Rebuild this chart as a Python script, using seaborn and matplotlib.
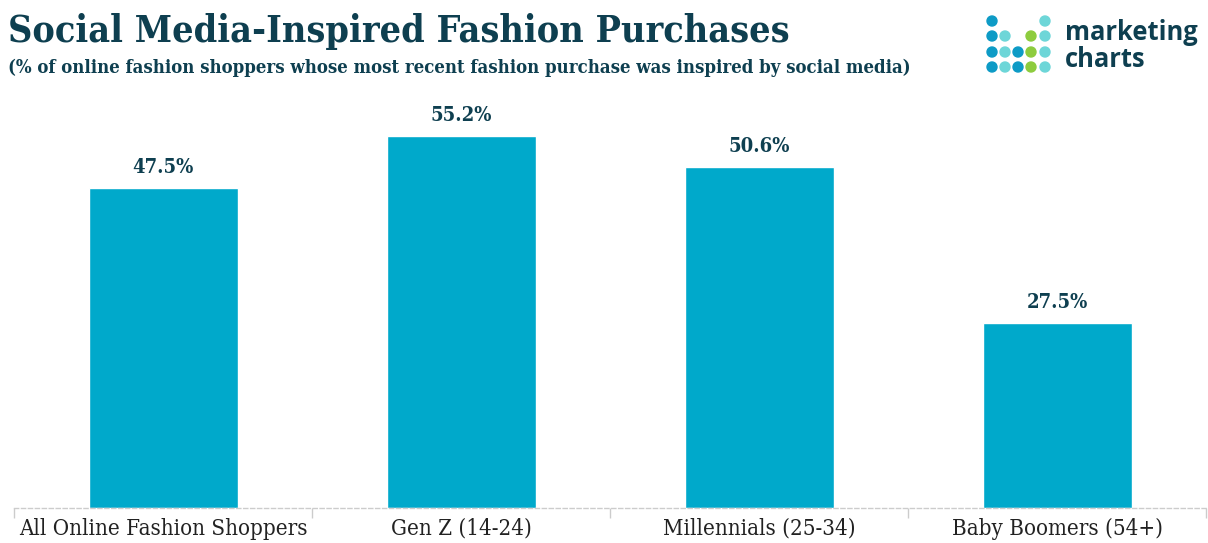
import matplotlib
matplotlib.use("Agg")
import matplotlib.pyplot as plt
from matplotlib.patches import Ellipse
import seaborn as sns
import pandas as pd

categories = ["All Online Fashion Shoppers", "Gen Z (14-24)", "Millennials (25-34)", "Baby Boomers (54+)"]
values = [47.5, 55.2, 50.6, 27.5]
value_labels = ["47.5%", "55.2%", "50.6%", "27.5%"]

title = "Social Media-Inspired Fashion Purchases"
subtitle = "(% of online fashion shoppers whose most recent fashion purchase was inspired by social media)"

sns.set_theme(style="white")

BAR = "#00a9cb"
DARK = "#0e3f50"
SERIF = dict(family="DejaVu Serif", stretch="condensed")
W, H = 1208, 543

df = pd.DataFrame({"group": categories, "share": values})

fig = plt.figure(figsize=(W / 100, H / 100), dpi=100)
ax = fig.add_axes([14 / W, 1 - 508 / H, (1206 - 14) / W, (508 - 100) / H])

sns.barplot(data=df, x="group", y="share", color=BAR, width=0.5, saturation=1, ax=ax)

ax.set_xlim(-0.5, len(categories) - 0.5)
ax.set_ylim(0, (508 - 100) / 6.74)
ax.set_xlabel("")
ax.set_ylabel("")
ax.set_yticks([])
for s in ["top", "left", "right"]:
    ax.spines[s].set_visible(False)
ax.spines["bottom"].set_color("#cccccc")
ax.spines["bottom"].set_linestyle((0, (3, 2)))
ax.spines["bottom"].set_linewidth(1.0)

ax.set_xticks(range(len(categories)))
ax.set_xticklabels(categories, fontsize=16, color="#222222", **SERIF)
ax.set_xticks([i - 0.5 for i in range(len(categories) + 1)], minor=True)
ax.tick_params(axis="x", which="major", length=0, pad=7)
ax.tick_params(axis="x", which="minor", length=7, width=1, color="#cccccc", bottom=True)

for i, (v, lab) in enumerate(zip(values, value_labels)):
    ax.annotate(lab, (i, v), xytext=(0, 8), textcoords="offset points",
                ha="center", va="bottom", fontsize=14.5, fontweight="bold",
                color=DARK, **SERIF)

fig.text(8 / W, 1 - 32 / H, title, fontweight="bold",
         fontsize=27, color=DARK, va="center", ha="left", **SERIF)
fig.text(8 / W, 1 - 68 / H, subtitle, fontweight="bold",
         fontsize=13.3, color=DARK, va="center", ha="left", **SERIF)

# logo: dotted bars and wordmark
blue, teal, green = "#0d9bc6", "#6dd6d8", "#8dcc3e"
dots = [
    [blue, None, None, None, teal],
    [blue, teal, None, green, teal],
    [blue, teal, blue, green, teal],
    [blue, teal, blue, green, teal],
]
xs = [992, 1005, 1018, 1031, 1045]
ys = [21, 36, 52, 67]
for r, row in enumerate(dots):
    for c, col in enumerate(row):
        if col:
            fig.patches.append(Ellipse((xs[c] / W, 1 - ys[r] / H), 10 / W, 10 / H,
                                       transform=fig.transFigure, color=col,
                                       figure=fig))
fig.text(1065 / W, 1 - 40 / H, "marketing", family="Open Sans", fontweight="bold",
         fontsize=18.4, color=DARK, va="baseline", ha="left")
fig.text(1065 / W, 1 - 67 / H, "charts", family="Open Sans", fontweight="bold",
         fontsize=18.4, color=DARK, va="baseline", ha="left")

fig.savefig("out.png", dpi=100)
